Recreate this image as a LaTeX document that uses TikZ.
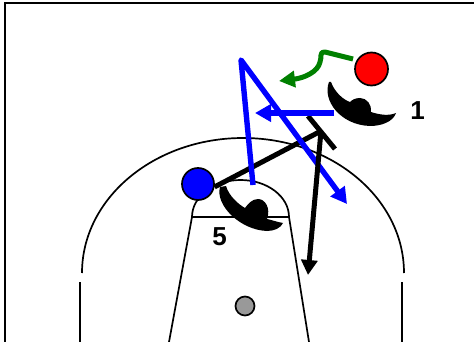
\documentclass[tikz,border=0pt]{standalone}
\usepackage{fontspec}
\setmainfont{Liberation Sans}
\usetikzlibrary{arrows.meta}
\tikzset{
  court/.style={line width=1.7pt,black},
  player/.style={circle,draw=black,line width=1.7pt,inner sep=0pt,minimum size=#1},
  number/.style={font=\fontsize{26}{26}\selectfont\bfseries,inner sep=0pt},
  screen/.style={line width=5pt,black},
  cut/.style={-{Triangle[length=16pt,width=17pt]},line width=5.4pt,blue,line join=round},
  drive/.style={-{Triangle[length=15pt,width=16pt]},line width=5pt,black},
  pass/.style={-{Triangle[length=16pt,width=16pt]},line width=5pt,green!50!black,line join=round},
  guard/.style={fill=black}
}
\begin{document}
\begin{tikzpicture}[x=1pt,y=-1pt]
    \useasboundingbox (0,0) rectangle (474,342);
    %frame
    \draw[line width=2.2pt] (5,342) -- (5,3) -- (474,3);
    %court
    \draw[court] (82,273) arc[start angle=180,end angle=360,x radius=161,y radius=135];
    \draw[court] (80,282) -- (80,342);
    \draw[court] (402,282) -- (402,342);
    \draw[court] (169,342) -- (192,217) -- (289,217) -- (309,342);
    \draw[court] (192,217) arc[start angle=180,end angle=360,x radius=48.5,y radius=37];
    \node[player=19pt,fill=black!40] (ball) at (245,306) {};

    %defenders
    \path[guard] (329,82) .. controls (322,100) and (340,125) .. (370,126)
      .. controls (381,126) and (393,122) .. (396,113)
      .. controls (389,116) and (380,115) .. (371,112)
      .. controls (372,105) and (367,98) .. (360,98)
      .. controls (355,98) and (352,100) .. (350,102)
      .. controls (344,100) and (335,93) .. (331,82) -- cycle;
    \path[guard] (220,187) .. controls (215,205) and (240,230) .. (267,231)
      .. controls (274,231) and (281,228) .. (283,223)
      .. controls (277,222) and (272,220) .. (267,219)
      .. controls (271,208) and (265,199) .. (258,199)
      .. controls (252,199) and (248,204) .. (245,208)
      .. controls (238,204) and (229,196) .. (226,186) -- cycle;
    \node[number] (num_1) at (417.5,111) {1};
    \node[number] (num_5) at (219.5,237) {5};

    %players
    \node[player=33pt,fill=red] (red_1) at (371.5,69) {};
    \node[player=32pt,fill=blue] (blue_5) at (198,184) {};

    %free ends
    \coordinate (screen_top) at (308,116);
    \coordinate (screen_bot) at (335,149);
    \coordinate (screen_mid) at (321,131);
    \coordinate (drive_end) at (308,275);
    \coordinate (pass_start) at (353,59);
    \coordinate (pass_end) at (279,81);
    \coordinate (cut_start) at (334,113);
    \coordinate (cut_end) at (255,113);
    \coordinate (post_start) at (253,185);
    \coordinate (post_turn) at (241,60);
    \coordinate (post_end) at (347,204);

    %screen and drive
    \draw[screen] (screen_top) -- (screen_bot);
    \draw[screen] (blue_5.-10) -- (screen_mid);
    %moves
    \draw[cut] (post_start) -- (post_turn) -- (post_end);
    \draw[cut] (cut_start) -- (cut_end);
    \draw[drive] (screen_mid) -- (drive_end);
    \draw[pass] (pass_start) -- (325,52) .. controls (319,51) and (322,58) .. (320,62)
      .. controls (318,72) and (304,78) .. (pass_end);
\end{tikzpicture}
\end{document}
